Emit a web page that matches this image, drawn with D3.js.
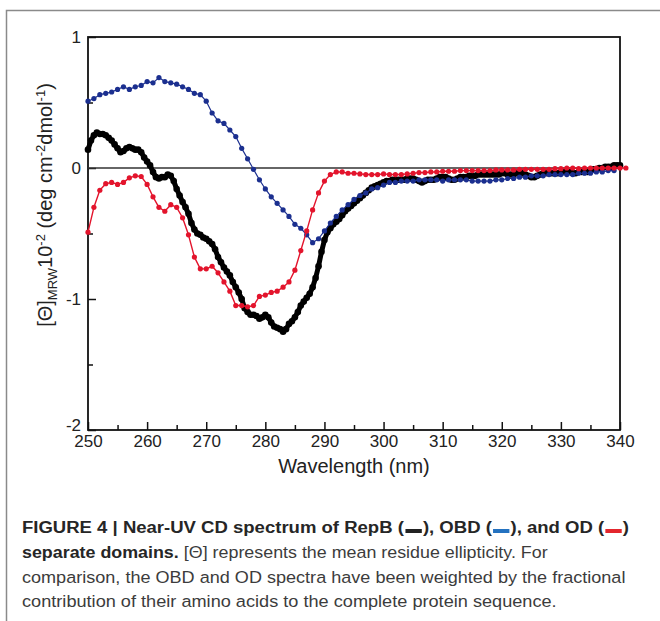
<!DOCTYPE html>
<html>
<head>
<meta charset="utf-8">
<script src="https://cdnjs.cloudflare.com/ajax/libs/d3/7.8.5/d3.min.js"></script>
<style>
    body { margin: 0; background: #fff; }
    svg { display: block; font-family: "Liberation Sans", Arial, Helvetica, sans-serif; }
    text { white-space: pre; }
</style>
</head>
<body>
<svg id="chart" width="660" height="621"></svg>
<script>

// RepB, every 0.5 nm from 250 to 340
var repbWavelength = d3.range( 250, 340.25, 0.5 );
var repbValues = [
    0.14, 0.21, 0.25, 0.27, 0.26, 0.26, 0.25, 0.23, 0.21, 0.18,
    0.15, 0.12, 0.13, 0.15, 0.16, 0.15, 0.14, 0.14, 0.12, 0.08,
    0.05, 0.02, -0.03, -0.07, -0.08, -0.07, -0.07, -0.05, -0.06, -0.10,
    -0.16, -0.21, -0.26, -0.30, -0.35, -0.42, -0.47, -0.50, -0.51, -0.53,
    -0.54, -0.56, -0.58, -0.62, -0.68, -0.72, -0.76, -0.79, -0.82, -0.87,
    -0.91, -0.95, -1.00, -1.07, -1.10, -1.12, -1.12, -1.13, -1.15, -1.14,
    -1.12, -1.14, -1.18, -1.21, -1.22, -1.23, -1.25, -1.23, -1.19, -1.17,
    -1.14, -1.10, -1.05, -1.02, -0.99, -0.96, -0.91, -0.84, -0.75, -0.64,
    -0.55, -0.49, -0.46, -0.43, -0.41, -0.39, -0.36, -0.33, -0.31, -0.29,
    -0.27, -0.25, -0.23, -0.21, -0.19, -0.17, -0.15, -0.14, -0.13, -0.12,
    -0.11, -0.10, -0.10, -0.09, -0.09, -0.09, -0.09, -0.09, -0.08, -0.08,
    -0.08, -0.09, -0.10, -0.11, -0.10, -0.09, -0.09, -0.09, -0.08, -0.07,
    -0.07, -0.07, -0.08, -0.09, -0.09, -0.08, -0.07, -0.07, -0.07, -0.06,
    -0.06, -0.06, -0.05, -0.05, -0.05, -0.05, -0.05, -0.05, -0.05, -0.05,
    -0.04, -0.04, -0.05, -0.05, -0.05, -0.04, -0.04, -0.04, -0.05, -0.06,
    -0.07, -0.07, -0.06, -0.05, -0.04, -0.04, -0.04, -0.04, -0.04, -0.04,
    -0.03, -0.03, -0.03, -0.03, -0.04, -0.04, -0.03, -0.03, -0.03, -0.03,
    -0.02, -0.01, -0.01, 0.00, 0.00, 0.01, 0.01, 0.01, 0.02, 0.02,
    0.02
];

// OBD, every 1 nm from 250 to 339
var obdWavelength = d3.range( 250, 340, 1 );
var obdValues = [
    0.51, 0.53, 0.56, 0.57, 0.58, 0.60, 0.62, 0.60, 0.62, 0.63,
    0.66, 0.65, 0.69, 0.66, 0.65, 0.64, 0.62, 0.60, 0.57, 0.56,
    0.51, 0.42, 0.36, 0.34, 0.29, 0.24, 0.15, 0.07, -0.01, -0.09,
    -0.16, -0.22, -0.27, -0.32, -0.37, -0.43, -0.46, -0.51, -0.57, -0.54,
    -0.48, -0.42, -0.37, -0.32, -0.28, -0.24, -0.21, -0.19, -0.16, -0.15,
    -0.13, -0.11, -0.11, -0.10, -0.10, -0.10, -0.09, -0.09, -0.09, -0.09,
    -0.10, -0.09, -0.09, -0.09, -0.09, -0.10, -0.10, -0.10, -0.10, -0.09,
    -0.09, -0.08, -0.08, -0.07, -0.07, -0.06, -0.06, -0.06, -0.05, -0.05,
    -0.05, -0.05, -0.05, -0.04, -0.04, -0.04, -0.03, -0.03, -0.02, -0.02
];

// OD, every 1 nm from 250 to 341
var odWavelength = d3.range( 250, 342, 1 );
var odValues = [
    -0.49, -0.30, -0.17, -0.12, -0.11, -0.125, -0.11, -0.075, -0.06, -0.065,
    -0.125, -0.22, -0.30, -0.33, -0.28, -0.30, -0.38, -0.51, -0.68, -0.77,
    -0.77, -0.75, -0.80, -0.87, -0.94, -1.05, -1.05, -1.06, -1.05, -0.98,
    -0.97, -0.95, -0.94, -0.91, -0.87, -0.78, -0.63, -0.48, -0.32, -0.19,
    -0.10, -0.05, -0.03, -0.03, -0.04, -0.04, -0.045, -0.05, -0.05, -0.05,
    -0.045, -0.05, -0.05, -0.05, -0.045, -0.04, -0.035, -0.035, -0.03, -0.03,
    -0.025, -0.025, -0.025, -0.02, -0.02, -0.02, -0.02, -0.02, -0.02, -0.015,
    -0.015, -0.015, -0.015, -0.01, -0.01, -0.01, -0.01, -0.01, -0.01, -0.005,
    -0.005, 0, 0, -0.005, 0, 0, 0, 0, 0, 0,
    0, 0
];

var xMajorTicks = [ 250, 260, 270, 280, 290, 300, 310, 320, 330, 340 ];
var xMinorTicks = [ 255, 265, 275, 285, 295, 305, 315, 325, 335 ];
var yMajorTicks = [ 1, 0, -1, -2 ];
var yMinorTicks = [ 0.5, -0.5, -1.5 ];

var svg = d3.select('#chart');

var plotLeft = 88, plotRight = 620, plotTop = 37, plotBottom = 430;

var x = d3.scaleLinear().domain([ 250, 340 ]).range([ plotLeft, plotRight ]);
var y = d3.scaleLinear().domain([ -2, 1 ]).range([ plotBottom, plotTop ]);

// outer panel border (top and left edges only)
svg.append('path')
    .attr('d', 'M6.5,621V10.5H660')
    .attr('fill', 'none')
    .attr('stroke', '#8a8a8a')
    .attr('stroke-width', 1.5);

// axes, ticks pointing inwards
svg.append('g')
    .attr('transform', 'translate(0,' + plotBottom + ')')
    .call( d3.axisBottom( x ).tickValues( xMajorTicks ).tickSizeInner( -8 ).tickSizeOuter( 0 ).tickPadding( 5 ) );

svg.append('g')
    .attr('transform', 'translate(0,' + plotBottom + ')')
    .call( d3.axisBottom( x ).tickValues( xMinorTicks ).tickSizeInner( -5 ).tickSizeOuter( 0 ).tickFormat('') );

var yAxis = svg.append('g')
    .attr('transform', 'translate(' + plotLeft + ',0)')
    .call( d3.axisLeft( y ).tickValues( yMajorTicks ).tickSizeInner( -8 ).tickSizeOuter( 0 ).tickPadding( 7 ) );

svg.append('g')
    .attr('transform', 'translate(' + plotLeft + ',0)')
    .call( d3.axisLeft( y ).tickValues( yMinorTicks ).tickSizeInner( -5 ).tickSizeOuter( 0 ).tickFormat('') );

svg.selectAll('.domain').remove();
svg.selectAll('.tick line').attr('stroke', '#111').attr('stroke-width', 1.5);
svg.selectAll('.tick text')
    .attr('fill', '#222')
    .style('font-size', '17px')
    .style('font-family', '"Liberation Sans", Arial, sans-serif');

// minus signs as in the original, lowest label nudged up off the x labels
yAxis.selectAll('.tick text')
    .text( function (d) { return d < 0 ? '-' + Math.abs( d ) : d; } )
    .attr('y', function (d) { return d === -2 ? -5 : 0; } );

// frame
svg.append('rect')
    .attr('x', plotLeft)
    .attr('y', plotTop)
    .attr('width', plotRight - plotLeft)
    .attr('height', plotBottom - plotTop)
    .attr('fill', 'none')
    .attr('stroke', '#111')
    .attr('stroke-width', 1.8);

// zero line
svg.append('line')
    .attr('x1', plotLeft)
    .attr('x2', plotRight)
    .attr('y1', y( 0 ))
    .attr('y2', y( 0 ))
    .attr('stroke', '#333')
    .attr('stroke-width', 1.5);

// series

function drawSeries ( wl, values, color, lineWidth, radius ) {

    var pts = values.map( function ( v, i ) { return [ wl[ i ], v ]; } );

    var line = d3.line()
        .x( function (d) { return x( d[0] ); } )
        .y( function (d) { return y( d[1] ); } );

    svg.append('path')
        .datum( pts )
        .attr('d', line)
        .attr('fill', 'none')
        .attr('stroke', color)
        .attr('stroke-width', lineWidth)
        .attr('stroke-linejoin', 'round');

    svg.append('g').selectAll('circle')
        .data( pts )
        .enter().append('circle')
        .attr('cx', function (d) { return x( d[0] ); })
        .attr('cy', function (d) { return y( d[1] ); })
        .attr('r', radius)
        .attr('fill', color);

}

drawSeries( repbWavelength, repbValues, '#000000', 5, 3.3 );
drawSeries( obdWavelength, obdValues, '#1b2f8f', 1.2, 2.6 );
drawSeries( odWavelength, odValues, '#e3142c', 1.4, 2.6 );

// axis titles

svg.append('text')
    .attr('x', ( plotLeft + plotRight ) / 2)
    .attr('y', 473)
    .attr('text-anchor', 'middle')
    .attr('fill', '#222')
    .style('font-size', '20px')
    .text('Wavelength (nm)');

var yTitle = svg.append('text')
    .attr('transform', 'translate(52,205) rotate(-90)')
    .attr('text-anchor', 'middle')
    .attr('fill', '#222')
    .style('font-size', '20px');

yTitle.append('tspan').text('[\u0398]');
yTitle.append('tspan').attr('dy', 5).style('font-size', '13px').text('MRW');
yTitle.append('tspan').attr('dy', -5).text('10');
yTitle.append('tspan').attr('dy', -7).style('font-size', '13px').text('-2');
yTitle.append('tspan').attr('dy', 7).text(' (deg cm');
yTitle.append('tspan').attr('dy', -7).style('font-size', '13px').text('-2');
yTitle.append('tspan').attr('dy', 7).text('dmol');
yTitle.append('tspan').attr('dy', -7).style('font-size', '13px').text('-1');
yTitle.append('tspan').attr('dy', 7).text(')');

// caption

function captionLine ( yPos, parts, targetWidth ) {

    var g = svg.append('g');
    var cursor = 0;

    parts.forEach( function ( p ) {

        if ( p.swatch ) {

            g.append('rect')
                .attr('x', cursor + 1)
                .attr('y', -4)
                .attr('width', 15)
                .attr('height', 4)
                .attr('fill', p.swatch);
            cursor += 17;

        } else {

            var t = g.append('text')
                .attr('x', cursor)
                .attr('y', 0)
                .attr('fill', p.bold ? '#262626' : '#3c3c3c')
                .style('font-size', '17px')
                .style('font-weight', p.bold ? 'bold' : 'normal')
                .text( p.text );
            cursor += t.node().getComputedTextLength();

        }

    });

    g.attr('transform', 'translate(22,' + yPos + ') scale(' + ( targetWidth / cursor ) + ',1)');

}

captionLine( 533, [
    { text: 'FIGURE 4 | Near-UV CD spectrum of RepB (', bold: true },
    { swatch: '#222222' },
    { text: '), OBD (', bold: true },
    { swatch: '#2472c0' },
    { text: '), and OD (', bold: true },
    { swatch: '#e3262d' },
    { text: ')', bold: true }
], 607 );

captionLine( 558, [
    { text: 'separate domains.', bold: true },
    { text: ' [\u0398] represents the mean residue ellipticity. For', bold: false }
], 526 );

captionLine( 583, [
    { text: 'comparison, the OBD and OD spectra have been weighted by the fractional', bold: false }
], 604 );

captionLine( 607, [
    { text: 'contribution of their amino acids to the complete protein sequence.', bold: false }
], 535 );

</script>
</body>
</html>
